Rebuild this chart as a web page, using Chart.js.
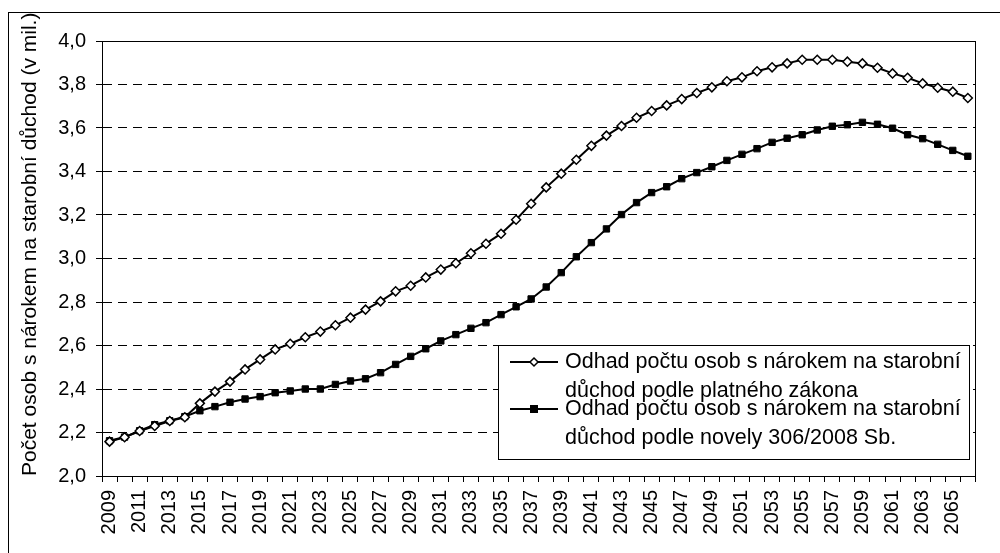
<!DOCTYPE html>
<html>
<head>
<meta charset="utf-8">
<script src="https://cdn.jsdelivr.net/npm/chart.js@4/dist/chart.umd.min.js"></script>
<style>
  html, body { margin: 0; padding: 0; background: #fff; }
  #wrap { width: 1000px; height: 553px; }
</style>
</head>
<body>
<div id="wrap"><canvas id="pensionChart" width="1000" height="553"></canvas></div>
<script>
// --- Data ---
const years = [];
for (let y = 2009; y <= 2066; y++) years.push(String(y));

const currentLaw = [
  2.158, 2.178, 2.207, 2.230, 2.253, 2.270, 2.334, 2.388, 2.434, 2.490,
  2.536, 2.582, 2.608, 2.638, 2.664, 2.693, 2.728, 2.765, 2.803, 2.849,
  2.875, 2.913, 2.949, 2.978, 3.024, 3.068, 3.114, 3.178, 3.252, 3.327,
  3.390, 3.454, 3.518, 3.565, 3.609, 3.647, 3.678, 3.704, 3.733, 3.761,
  3.787, 3.815, 3.833, 3.861, 3.879, 3.897, 3.914, 3.914, 3.914, 3.905,
  3.897, 3.877, 3.851, 3.831, 3.805, 3.785, 3.767, 3.738,
];

const amendment = [
  2.162, 2.179, 2.208, 2.236, 2.254, 2.273, 2.300, 2.319, 2.339, 2.354,
  2.365, 2.383, 2.391, 2.400, 2.400, 2.421, 2.437, 2.447, 2.475, 2.513,
  2.550, 2.585, 2.621, 2.650, 2.679, 2.705, 2.742, 2.778, 2.814, 2.869,
  2.935, 3.008, 3.073, 3.136, 3.202, 3.257, 3.303, 3.330, 3.367, 3.395,
  3.422, 3.451, 3.479, 3.505, 3.534, 3.553, 3.569, 3.591, 3.608, 3.615,
  3.626, 3.617, 3.599, 3.569, 3.551, 3.525, 3.497, 3.470,
];

const seriesLabels = [
  ['Odhad počtu osob s nárokem na starobní', 'důchod podle platného zákona'],
  ['Odhad počtu osob s nárokem na starobní', 'důchod podle novely 306/2008 Sb.'],
];

const yAxisTitle = 'Počet osob s nárokem na starobní důchod (v mil.)';

const FONT = "'Liberation Sans', Arial, sans-serif";

// outer frame + plot frame
const framePlugin = {
  id: 'frame',
  beforeDraw(chart) {
    const { ctx, width, height } = chart;
    ctx.save();
    ctx.fillStyle = '#fff';
    ctx.fillRect(0, 0, width, height);
    ctx.strokeStyle = '#000';
    ctx.lineWidth = 1;
    ctx.strokeRect(8.5, 12.5, width + 20, height + 20);
    ctx.restore();
  },
  afterDraw(chart) {
    const { ctx, chartArea: a } = chart;
    ctx.save();
    ctx.strokeStyle = '#000';
    ctx.lineWidth = 1;
    ctx.strokeRect(Math.round(a.left) + 0.5, Math.round(a.top) + 0.5,
      Math.round(a.right - a.left), Math.round(a.bottom - a.top));
    ctx.restore();
  },
};

// legend box drawn inside the plot, like the original
const boxLegendPlugin = {
  id: 'boxLegend',
  afterDraw(chart) {
    const { ctx } = chart;
    const box = { x: 498.5, y: 345.5, w: 471, h: 114 };
    ctx.save();
    ctx.fillStyle = '#fff';
    ctx.fillRect(box.x, box.y, box.w, box.h);
    ctx.strokeStyle = '#000';
    ctx.lineWidth = 1;
    ctx.strokeRect(box.x, box.y, box.w, box.h);

    ctx.font = '21.5px ' + FONT;
    ctx.fillStyle = '#000';
    ctx.textBaseline = 'middle';
    const rows = [362, 409];
    chart.data.datasets.forEach((ds, i) => {
      const y = rows[i];
      ctx.strokeStyle = '#000';
      ctx.lineWidth = 2;
      ctx.beginPath();
      ctx.moveTo(510, y);
      ctx.lineTo(558, y);
      ctx.stroke();
      ctx.lineWidth = 1.5;
      ctx.fillStyle = ds.pointBackgroundColor;
      ctx.beginPath();
      if (ds.pointStyle === 'rectRot') {
        ctx.moveTo(534, y - 4);
        ctx.lineTo(538, y);
        ctx.lineTo(534, y + 4);
        ctx.lineTo(530, y);
        ctx.closePath();
        ctx.fill();
        ctx.stroke();
      } else {
        ctx.rect(530, y - 4, 8, 8);
        ctx.fill();
      }
      ctx.fillStyle = '#000';
      seriesLabels[i].forEach((line, j) => {
        ctx.fillText(line, 565, y + j * 29);
      });
    });
    ctx.restore();
  },
};

new Chart(document.getElementById('pensionChart').getContext('2d'), {
  type: 'line',
  data: {
    labels: years,
    datasets: [
      {
        label: seriesLabels[0].join(' '),
        data: currentLaw,
        borderColor: '#000',
        borderWidth: 2,
        pointStyle: 'rectRot',
        pointRadius: 4.5,
        pointBorderWidth: 1.5,
        pointBackgroundColor: '#fff',
        pointBorderColor: '#000',
        tension: 0,
      },
      {
        label: seriesLabels[1].join(' '),
        data: amendment,
        borderColor: '#000',
        borderWidth: 2,
        pointStyle: 'rect',
        pointRadius: 4.5,
        pointBorderWidth: 1,
        pointBackgroundColor: '#000',
        pointBorderColor: '#000',
        tension: 0,
      },
    ],
  },
  options: {
    responsive: false,
    animation: false,
    layout: { padding: { top: 41, right: 20, left: 0, bottom: 0 } },
    plugins: {
      legend: { display: false },
      tooltip: { enabled: false },
    },
    scales: {
      x: {
        offset: true,
        afterFit: (s) => { s.height = 77; },
        grid: {
          offset: true,
          drawOnChartArea: false,
          drawTicks: true,
          tickLength: 6,
          color: '#000',
        },
        border: { color: '#000', width: 1 },
        ticks: {
          autoSkip: false,
          maxRotation: 90,
          minRotation: 90,
          padding: 8,
          color: '#000',
          font: { family: FONT, size: 20 },
          callback: function (value, index) {
            return index % 2 === 0 ? this.getLabelForValue(value) : '';
          },
        },
      },
      y: {
        min: 2.0,
        max: 4.0,
        afterFit: (s) => { s.width = 102; },
        grid: {
          color: '#000',
          tickBorderDash: [],
          tickLength: 6,
        },
        border: { color: '#000', width: 1, dash: [9, 6] },
        ticks: {
          stepSize: 0.2,
          padding: 10,
          color: '#000',
          font: { family: FONT, size: 20 },
          callback: (v) => v.toFixed(1).replace('.', ','),
        },
        title: {
          display: true,
          text: yAxisTitle,
          align: 'start',
          color: '#000',
          font: { family: FONT, size: 21 },
          padding: { top: 18, bottom: 0 },
        },
      },
    },
  },
  plugins: [framePlugin, boxLegendPlugin],
});
</script>
</body>
</html>
